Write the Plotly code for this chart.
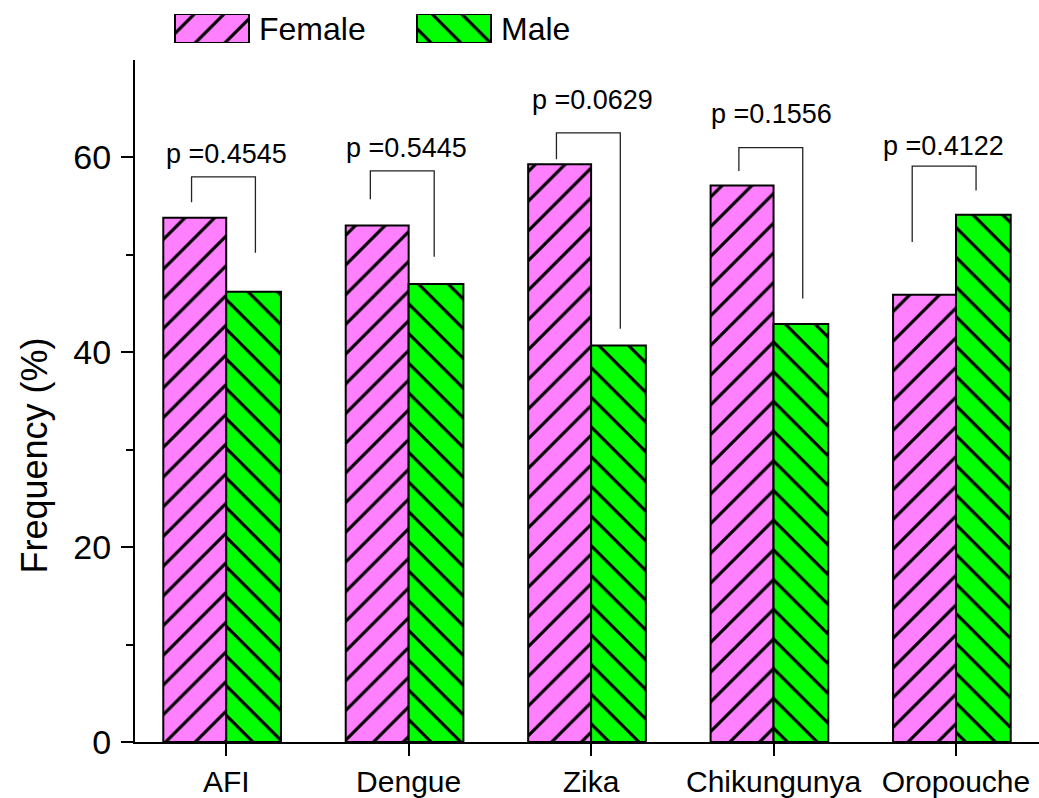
import plotly.graph_objects as go

# ---- data ----
categories = ["AFI", "Dengue", "Zika", "Chikungunya", "Oropouche"]
female = [53.8, 53.0, 59.3, 57.1, 45.9]
male = [46.2, 47.0, 40.7, 42.9, 54.1]
p_values = ["0.4545", "0.5445", "0.0629", "0.1556", "0.4122"]
# bracket levels (y, in %): top bar, left leg end, right leg end, label centre
bracket_top = [58.0, 58.6, 62.5, 61.0, 59.1]
bracket_left_end = [55.4, 55.7, 59.8, 58.6, 51.3]
bracket_right_end = [50.2, 49.8, 42.4, 45.5, 56.6]
label_y = [60.3, 61.0, 65.9, 64.4, 61.2]
y_ticks = [0, 20, 40, 60]

PINK = "#FF80FF"
GREEN = "#00FF00"
FONT = "Liberation Sans, Arial, sans-serif"

xpos = list(range(len(categories)))

fig = go.Figure()

W_F, W_M = 0.345, 0.30
pat_f = dict(shape="/", fgcolor="black", fgopacity=1, bgcolor=PINK, size=21, solidity=0.15, fillmode="overlay")
pat_m = dict(shape="\\", fgcolor="black", fgopacity=1, bgcolor=GREEN, size=21, solidity=0.15, fillmode="overlay")

fig.add_trace(go.Bar(
    x=xpos, y=female, name="Female", width=W_F, offset=-W_F,
    marker=dict(color=PINK, line=dict(color="black", width=2), pattern=pat_f),
    showlegend=False,
))
fig.add_trace(go.Bar(
    x=xpos, y=male, name="Male", width=W_M, offset=0,
    marker=dict(color=GREEN, line=dict(color="black", width=2), pattern=pat_m),
    showlegend=False,
))

# ---- significance brackets ----
left_dx = [-0.19, -0.21, -0.19, -0.19, -0.24]
right_dx = [0.16, 0.14, 0.16, 0.16, 0.11]
label_dx = [0.0, -0.01, 0.01, -0.01, -0.07]
for i, xc in enumerate(xpos):
    xl, xr = xc + left_dx[i], xc + right_dx[i]
    fig.add_shape(
        type="path",
        path=f"M {xl} {bracket_left_end[i]} L {xl} {bracket_top[i]} L {xr} {bracket_top[i]} L {xr} {bracket_right_end[i]}",
        xref="x", yref="y", line=dict(color="#222222", width=1.3),
    )
    fig.add_annotation(
        x=xc + label_dx[i], y=label_y[i], xref="x", yref="y",
        text="p =" + p_values[i], showarrow=False,
        font=dict(family=FONT, size=27, color="black"),
        xanchor="center", yanchor="middle",
    )

# ---- legend drawn as large patterned swatches on a helper axis ----
legend_names = ["Female", "Male"]
legend_start = [40, 282]
legend_len = 74
for nm, st, col, pat in zip(legend_names, legend_start, [PINK, GREEN], [pat_f, pat_m]):
    fig.add_trace(go.Bar(
        x=[legend_len], y=[0.5], base=[st], orientation="h", width=1,
        marker=dict(color=col, line=dict(color="black", width=2), pattern=pat),
        xaxis="x2", yaxis="y2", showlegend=False, hoverinfo="skip",
    ))
    fig.add_annotation(
        x=st + legend_len + 8, y=0.5, xref="x2", yref="y2", text=nm,
        showarrow=False, xanchor="left", yanchor="middle",
        font=dict(family=FONT, size=32, color="black"),
    )

# y-axis title
fig.add_annotation(
    x=-0.111, y=0.393, xref="paper", yref="paper",
    text="Frequency (%)", textangle=-90, showarrow=False,
    xanchor="center", yanchor="middle",
    font=dict(family=FONT, size=36, color="black"),
)

fig.update_layout(
    width=1039, height=798,
    margin=dict(l=135, r=0, t=14, b=53),
    plot_bgcolor="white", paper_bgcolor="white",
    barmode="overlay",
    font=dict(family=FONT, color="black"),
    xaxis=dict(
        domain=[0, 1], range=[-0.5, 4.455],
        tickvals=xpos, ticktext=categories,
        showline=True, linecolor="black", linewidth=2,
        ticks="outside", ticklen=12, tickwidth=2, tickcolor="black",
        tickfont=dict(family=FONT, size=30, color="black"),
        showgrid=False, zeroline=False,
    ),
    yaxis=dict(
        domain=[0, 0.937], range=[0, 70],
        tickvals=y_ticks,
        showline=True, linecolor="black", linewidth=2,
        ticks="outside", ticklen=12, tickwidth=2, tickcolor="black",
        ticklabelstandoff=3,
        tickfont=dict(family=FONT, size=34, color="black"),
        minor=dict(tickvals=[10, 30, 50], ticks="outside", ticklen=7, tickwidth=2, tickcolor="black"),
        showgrid=False, zeroline=False,
    ),
    xaxis2=dict(domain=[0, 1], range=[0, 904], anchor="y2", visible=False, fixedrange=True),
    yaxis2=dict(domain=[0.96, 1.0], range=[0, 1], anchor="x2", visible=False, fixedrange=True),
)

fig.write_html("out.html", config={"displayModeBar": False},
               post_script="document.body.style.margin='0';")
